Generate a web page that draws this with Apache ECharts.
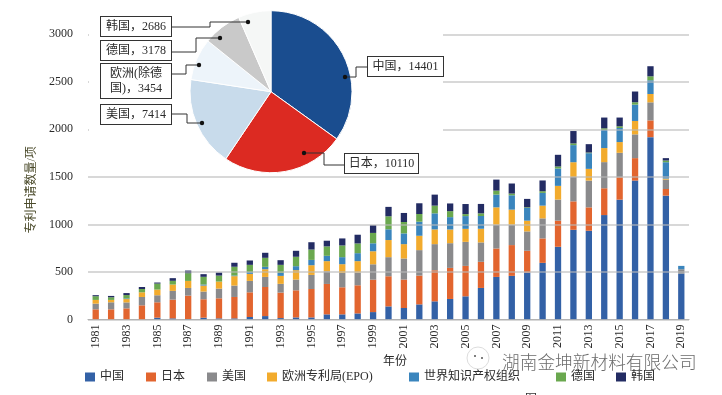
<!DOCTYPE html>
<html>
<head>
<meta charset="utf-8">
<style>html,body{margin:0;padding:0;background:#fff}#c{width:722px;height:395px}</style>
<script src="https://cdn.jsdelivr.net/npm/echarts@6/dist/echarts.min.js"></script>
</head>
<body>
<div id="c"></div>
<script>
const years = ['1981','1982','1983','1984','1985','1986','1987','1988','1989','1990','1991','1992','1993','1994','1995','1996','1997','1998','1999','2000','2001','2002','2003','2004','2005','2006','2007','2008','2009','2010','2011','2012','2013','2014','2015','2016','2017','2018','2019'];
const china = [0,0,0,0,18,11,4,18,11,11,25,35,14,21,21,53,53,63,77,137,120,158,190,215,243,331,447,458,493,595,764,943,933,1098,1260,1461,1918,1302,482];
const japan = [106,106,116,148,162,197,246,194,211,225,260,306,268,285,299,320,285,296,341,317,299,303,327,327,320,275,299,324,229,257,275,299,246,282,236,236,176,70,0];
const usa = [60,74,63,88,74,92,81,81,102,120,120,106,92,113,148,134,151,134,162,201,222,268,275,260,253,204,250,215,204,211,222,257,282,275,257,250,190,99,46];
const epo = [39,25,35,49,60,67,74,63,74,99,74,81,84,99,102,106,92,120,137,180,151,151,155,144,137,144,183,158,113,134,144,155,123,148,113,141,88,11,0];
const wipo = [0,0,7,0,0,0,0,11,0,7,18,25,32,42,56,56,74,84,84,113,113,148,169,130,134,134,134,151,134,134,183,180,165,190,148,172,144,172,35];
const germany = [39,28,35,35,63,39,81,81,63,92,77,95,84,99,109,99,123,102,109,137,120,81,81,63,21,28,42,18,7,18,21,18,7,18,18,25,42,18,0];
const korea = [11,14,21,21,11,28,28,28,32,42,46,53,49,63,77,60,74,92,81,99,95,113,116,81,106,99,116,106,88,113,123,130,88,113,92,113,106,25,0];

const pieNames = ['中国','日本','美国','欧洲(除德国)','德国','韩国'];
const pieValues = [14401,10110,7414,3454,3178,2686];
const pieColors = ['#1a4d8f','#dc2a22','#c8dbeb','#edf4fa','#c9c9c9','#f5f7f6'];
const pieLabels = ['中国，14401','日本，10110','美国，7414','欧洲(除德\n国)，3454','德国，3178','韩国，2686'];
const labelBoxes = [[368,57,75,19],[345,154,73,19],[101,105,70,19],[101,64,70,34],[101,41,70,19],[101,17,70,19]];
const leaders = [
  [[368,67],[356,67],[356,77],[345,77]],
  [[345,165],[324,165],[324,153],[304,153]],
  [[171,114],[187,114],[187,123],[202,123]],
  [[171,74],[186,74],[186,65],[199,65]],
  [[171,52],[196,52],[196,38],[220,38]],
  [[171,27],[210,27],[210,22],[248,22]]
];

const barNames = ['中国','日本','美国','欧洲专利局(EPO)','世界知识产权组织','德国','韩国'];
const barValues = [china,japan,usa,epo,wipo,germany,korea];
const barColors = ['#3361a6','#e2652f','#8a8a8c','#f2ab2d','#3a85bd','#6aa84f','#232c63'];
const legendLeft = [85,146,207,267,409,556,616];

const FONT = '"Liberation Serif","Noto Sans CJK SC",serif';
const TXT = '#2b2b2b';

const chart = echarts.init(document.getElementById('c'), null, {renderer:'canvas'});

const graphics = [
  {type:'rect', z:4, shape:{x:89,y:20,width:354,height:152}, style:{fill:'#fff'}, silent:true}
];
leaders.forEach(p => {
  graphics.push({type:'polyline', z:8, shape:{points:p}, style:{stroke:'#333',lineWidth:1,fill:null}, silent:true});
  const e = p[p.length-1];
  graphics.push({type:'circle', z:8, shape:{cx:e[0],cy:e[1],r:2.2}, style:{fill:'#111'}, silent:true});
});
// watermark
graphics.push({type:'circle', z:9, shape:{cx:478,cy:358,r:11}, style:{fill:'#fff',stroke:'#ddd',lineWidth:1}, silent:true});
graphics.push({type:'circle', z:9, shape:{cx:475,cy:356,r:1}, style:{fill:'#555'}, silent:true});
graphics.push({type:'circle', z:9, shape:{cx:482,cy:358,r:1}, style:{fill:'#555'}, silent:true});
graphics.push({type:'text', z:9, left:502, top:353, style:{text:'湖南金坤新材料有限公司', fill:'#6b6b6b', font:'300 17.7px "Noto Sans CJK SC",sans-serif'}, silent:true});
graphics.push({type:'text', z:9, left:525, top:392, style:{text:'图', fill:'#333', font:'12px "Noto Sans CJK SC",sans-serif'}, silent:true});

chart.setOption({
  animation:false,
  backgroundColor:'#fff',
  textStyle:{fontFamily:FONT,color:TXT},
  grid:{left:88,right:33,top:34.3,bottom:75.6,containLabel:false},
  legend: barNames.map((n,i)=>({
    data:[n], left:legendLeft[i], top:371, padding:0,
    itemWidth:10, itemHeight:9, selectedMode:false, icon:'rect',
    textStyle:{fontFamily:FONT,fontSize:12,color:TXT}
  })),
  xAxis:{
    type:'category', data:years,
    axisLine:{lineStyle:{color:'#a8a8a8',width:1}},
    axisTick:{show:false},
    axisLabel:{interval:1,rotate:90,fontSize:12,fontFamily:FONT,color:TXT,margin:5},
    name:'年份', nameLocation:'middle', nameGap:31,
    nameTextStyle:{fontSize:12,fontFamily:FONT,color:TXT,padding:[0,0,0,13]}
  },
  yAxis:{
    type:'value', min:0, max:3000, interval:500, z:3,
    axisLine:{show:false}, axisTick:{show:false},
    splitLine:{lineStyle:{color:'rgba(185,185,185,0.75)',width:1.5}},
    axisLabel:{fontSize:12,fontFamily:FONT,color:TXT,margin:15,formatter:function(v){return String(v);}},
    name:'专利申请数量/项', nameLocation:'middle', nameGap:44,
    nameTextStyle:{fontSize:12,fontFamily:FONT,color:'#4a4a2a',padding:[0,26,0,0]}
  },
  series: barNames.map((n,i)=>({
    name:n, type:'bar', stack:'total', data:barValues[i], barWidth:6.3,
    itemStyle:{color:barColors[i]}, emphasis:{disabled:true}, z:2
  })).concat([{
    type:'pie', z:5, legendHoverLink:false, silent:true,
    center:[271,91.7], radius:[0,81], startAngle:90, clockwise:true,
    itemStyle:{borderColor:'#fff',borderWidth:1},
    labelLine:{show:false},
    emphasis:{disabled:true},
    data: pieNames.map((n,i)=>{
      const b = labelBoxes[i];
      return {
        name:n, value:pieValues[i],
        itemStyle:{color:pieColors[i]},
        label:{
          show:true, position:'outside',
          formatter:pieLabels[i],
          fontFamily:FONT, fontSize:12, lineHeight:15, color:TXT,
          backgroundColor:'#fff', borderColor:'#333', borderWidth:1,
          width:b[2], height:b[3], align:'center', verticalAlign:'middle'
        },
        labelLine:{show:false}
      };
    }),
    labelLayout:function(p){
      const b = labelBoxes[p.dataIndex];
      return {x:b[0]+b[2]/2, y:b[1]+b[3]/2, align:'center', verticalAlign:'middle', hideOverlap:false, moveOverlap:false};
    }
  }]),
  graphic:{elements:graphics}
});
</script>
</body>
</html>
